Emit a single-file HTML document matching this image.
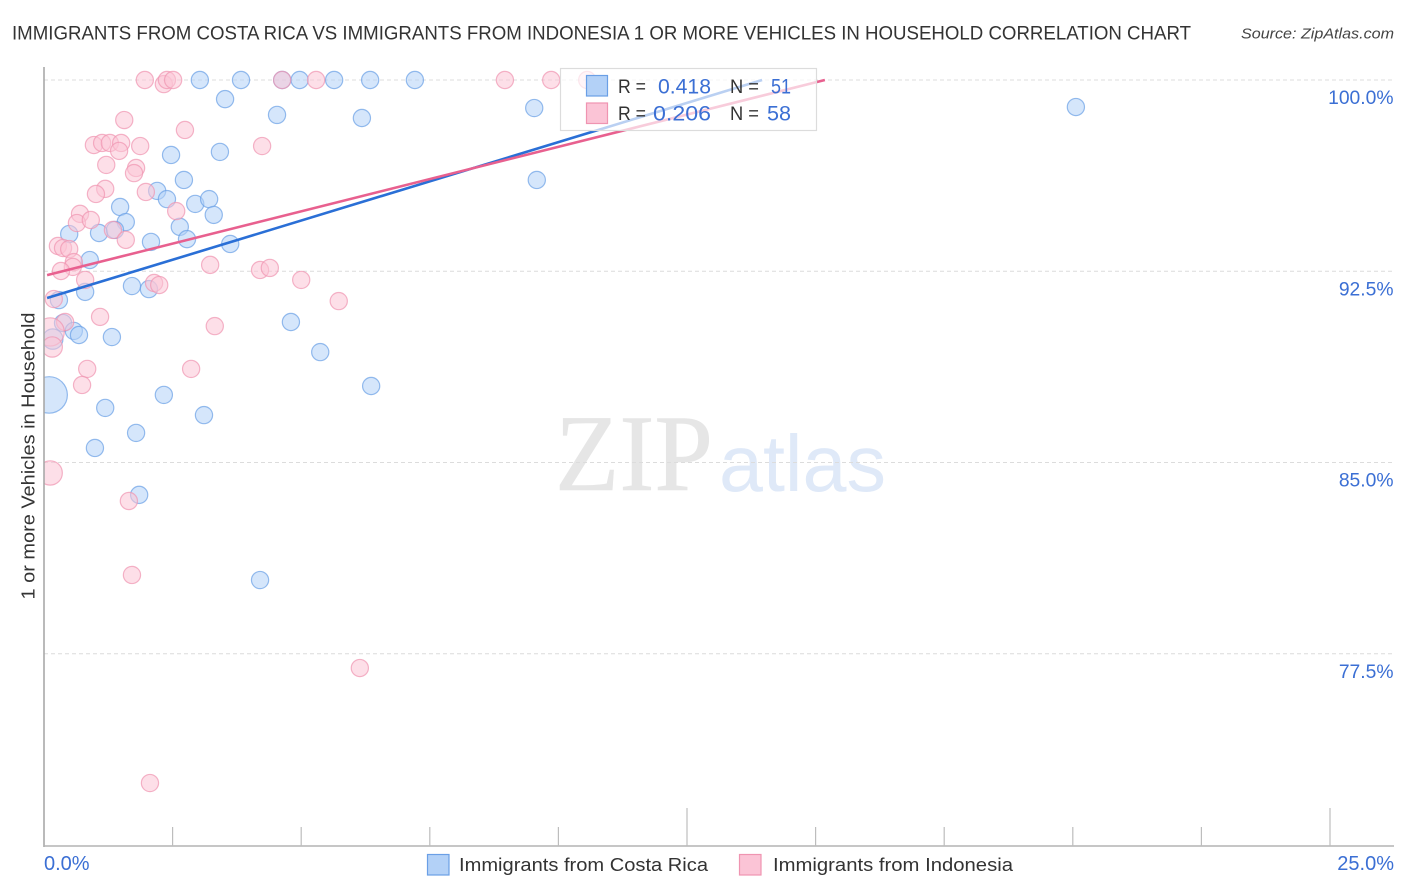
<!DOCTYPE html>
<html lang="en">
<head>
<meta charset="utf-8">
<title>Immigrants from Costa Rica vs Immigrants from Indonesia correlation chart</title>
<style>
html,body{margin:0;padding:0;background:#fff;width:1406px;height:892px;overflow:hidden}
svg{display:block}
text{font-family:"Liberation Sans",sans-serif}
</style>
</head>
<body>
<svg id="chart" xmlns="http://www.w3.org/2000/svg" width="1406" height="892" viewBox="0 0 1406 892">
  <text x="12" y="39.5" font-size="19.5" fill="#333" textLength="1179" lengthAdjust="spacingAndGlyphs">IMMIGRANTS FROM COSTA RICA VS IMMIGRANTS FROM INDONESIA 1 OR MORE VEHICLES IN HOUSEHOLD CORRELATION CHART</text>
  <text x="1241" y="38.5" font-size="15" font-style="italic" fill="#444" textLength="153" lengthAdjust="spacingAndGlyphs">Source: ZipAtlas.com</text>
  <text x="555" y="490" font-size="109" fill="#e6e6e6" stroke="#e6e6e6" stroke-width="0.6" textLength="158" lengthAdjust="spacingAndGlyphs" style="font-family:'Liberation Serif',serif">ZIP</text>
  <text x="719" y="491" font-size="80" fill="#dfe9f8" textLength="167" lengthAdjust="spacingAndGlyphs">atlas</text>
  <g id="grid"></g>
  <g id="points-blue"></g>
  <g id="points-pink"></g>
  <rect x="0" y="62" width="44" height="790" fill="#fff"/>
  <g id="axes"></g>
  <g id="trends"></g>
  <text transform="translate(34.5,456) rotate(-90)" text-anchor="middle" font-size="18.5" fill="#333" textLength="287" lengthAdjust="spacingAndGlyphs">1 or more Vehicles in Household</text>
  <g id="y-labels"></g>
  <g id="x-labels"></g>

  <g>
    <rect x="560.5" y="68.5" width="256" height="62" fill="#fff" fill-opacity="0.68" stroke="#dcdcdc" stroke-width="1.2"/>
    <rect x="586.5" y="75.5" width="21" height="20.5" fill="#b3d1f7" stroke="#6a9fe6" stroke-width="1.2"/>
    <rect x="586.5" y="103" width="21" height="20.5" fill="#fbc4d6" stroke="#ef94b1" stroke-width="1.2"/>
    <text x="618" y="93" font-size="19" fill="#333" textLength="28" lengthAdjust="spacingAndGlyphs">R =</text>
    <text x="658" y="93.5" font-size="21" fill="#3b6fd4" textLength="53" lengthAdjust="spacingAndGlyphs">0.418</text>
    <text x="730" y="93" font-size="19" fill="#333" textLength="29" lengthAdjust="spacingAndGlyphs">N =</text>
    <text x="771" y="93.5" font-size="21" fill="#3b6fd4" textLength="20" lengthAdjust="spacingAndGlyphs">51</text>
    <text x="618" y="120" font-size="19" fill="#333" textLength="28" lengthAdjust="spacingAndGlyphs">R =</text>
    <text x="653" y="120.5" font-size="21" fill="#3b6fd4" textLength="58" lengthAdjust="spacingAndGlyphs">0.206</text>
    <text x="730" y="120" font-size="19" fill="#333" textLength="29" lengthAdjust="spacingAndGlyphs">N =</text>
    <text x="767" y="120.5" font-size="21" fill="#3b6fd4" textLength="24" lengthAdjust="spacingAndGlyphs">58</text>
  </g>

  <g>
    <rect x="427.5" y="854.5" width="21.5" height="20.5" fill="#b3d1f7" stroke="#6a9fe6" stroke-width="1.2"/>
    <text x="459" y="871" font-size="18.5" fill="#333" textLength="249" lengthAdjust="spacingAndGlyphs">Immigrants from Costa Rica</text>
    <rect x="739.5" y="854.5" width="21.5" height="20.5" fill="#fbc4d6" stroke="#ef94b1" stroke-width="1.2"/>
    <text x="773" y="871" font-size="18.5" fill="#333" textLength="240" lengthAdjust="spacingAndGlyphs">Immigrants from Indonesia</text>
  </g>
</svg>
<script>
// x = share of immigrants (%), y = households with 1+ vehicles (%), optional third = relative sample weight
const costaRicaPoints = [
[3.03,100],[3.83,100],[4.63,100],[4.97,100],[5.64,100],[6.34,100],[7.21,100],
[3.52,99.25],[4.53,98.63],[6.18,98.51],[9.53,98.90],[20.06,98.94],[2.47,97.06],[3.42,97.18],
[9.58,96.08],[2.72,96.08],[2.20,95.65],[2.39,95.33],[2.94,95.14],[3.21,95.33],[3.30,94.71],
[1.48,95.02],[1.59,94.43],[1.07,94.00],[1.38,94.12],[0.49,93.96],[2.08,93.65],[2.64,94.24],
[2.78,93.76],[3.62,93.57],[0.89,92.94],[1.71,91.92],[2.04,91.80],[0.80,91.69],[0.29,91.37],
[4.80,90.51],[0.37,90.47],[0.58,90.16],[0.68,90.00],[1.32,89.92],[0.17,89.84,1.4],[5.37,89.33],
[6.36,88.00],[2.33,87.65],[0.10,87.65,4.5],[1.19,87.14],[3.11,86.86],[1.79,86.16],[0.99,85.57],
[1.85,83.73],[4.20,80.39]
];
const indonesiaPoints = [
[1.96,100],[2.33,99.84],[2.39,100],[2.51,100],[4.63,100],[5.29,100],[8.96,100],[9.86,100],[10.56,100],
[1.56,98.43],[2.74,98.04],[0.97,97.45],[1.13,97.53],[1.28,97.53],[1.50,97.53],[1.46,97.22],[1.87,97.41],
[4.24,97.41],[1.21,96.67],[1.79,96.55],[1.75,96.35],[1.19,95.73],[1.01,95.53],[1.98,95.61],[2.57,94.86],
[0.70,94.75],[0.64,94.39],[0.91,94.51],[1.34,94.12],[1.59,93.73],[0.27,93.49],[0.37,93.41],[0.49,93.37],
[0.58,92.86],[0.56,92.67],[0.33,92.51],[3.23,92.75],[4.20,92.55],[4.39,92.63],[0.80,92.16],[5.00,92.16],
[5.73,91.33],[2.14,92.04],[2.24,91.96],[0.19,91.41],[1.09,90.71],[3.32,90.35],[0.41,90.51],[0.12,90.12,2.7],
[0.16,89.53,1.4],[0.84,88.67],[2.86,88.67],[0.74,88.04],[0.12,84.59,2],[1.65,83.49],[1.71,80.59],[6.14,76.94],[2.06,72.43]
];
const costaRicaTrendX = [0.06, 13.96];
const costaRicaTrendY = [91.45, 100];
const indonesiaTrendX = [0.06, 15.18];
const indonesiaTrendY = [92.35, 100];
const yTickValues = [100, 92.5, 85, 77.5];
const yTickLabels = ["100.0%", "92.5%", "85.0%", "77.5%"];
const xTickValues = [2.5, 5, 7.5, 10, 12.5, 15, 17.5, 20, 22.5, 25];
const xMajorTicks = [12.5, 25];
const xEndValues = [0, 25];
const xEndLabels = ["0.0%", "25.0%"];

const NS = "http://www.w3.org/2000/svg";
const xScale = v => 44 + v * 51.44;
const yScale = v => 80 + (100 - v) * 25.5;
const AXIS_BOTTOM = 846;

function make(tag, attrs, parent) {
  const el = document.createElementNS(NS, tag);
  for (const k in attrs) el.setAttribute(k, attrs[k]);
  parent.appendChild(el);
  return el;
}

const gridG = document.getElementById("grid");
const axesG = document.getElementById("axes");
const yLabelsG = document.getElementById("y-labels");
const xLabelsG = document.getElementById("x-labels");
const trendsG = document.getElementById("trends");

yTickValues.forEach((v, i) => {
  const line = make("line", {x1: 44, x2: 1394, y1: yScale(v), y2: yScale(v), stroke: "#dcdcdc", "stroke-width": 1, "stroke-dasharray": "4 3"}, gridG);
  
  
  const label = make("text", {x: 1393.5, y: yScale(v) + 24, "text-anchor": "end", "font-size": 19.3, fill: "#3b6fd4"}, yLabelsG);
  
  
  label.textContent = yTickLabels[i];
});

const yAxis = make("line", {x1: 44, x2: 44, y1: 67, y2: AXIS_BOTTOM + 1, stroke: "#a8a8a8", "stroke-width": 1.6}, axesG);


const xAxis = make("line", {x1: 44, x2: 1394, y1: AXIS_BOTTOM, y2: AXIS_BOTTOM, stroke: "#b4b4b4", "stroke-width": 1.6}, axesG);



xTickValues.forEach(v => {
  const top = xMajorTicks.includes(v) ? 808 : 827;
  const tick = make("line", {x1: xScale(v), x2: xScale(v), y1: top, y2: AXIS_BOTTOM, stroke: "#bdbdbd", "stroke-width": 1.2}, axesG);
  
  
});

xEndValues.forEach((v, i) => {
  const label = make("text", {x: i === 0 ? xScale(v) : xScale(v) + 64, y: 870, "text-anchor": i === 0 ? "start" : "end", "font-size": 20, fill: "#3b6fd4"}, xLabelsG);
  
  
  label.textContent = xEndLabels[i];
});

function drawPoints(points, groupId, fill, stroke, name) {
  const g = document.getElementById(groupId);
  points.forEach(p => {
    const weight = p[2] || 1;
    const c = make("circle", {cx: xScale(p[0]), cy: yScale(p[1]), r: 8.6 * Math.sqrt(weight), fill: fill, "fill-opacity": 0.55, stroke: stroke, "stroke-opacity": 0.7, "stroke-width": 1.2}, g);
    
    
  });
}
drawPoints(costaRicaPoints, "points-blue", "#b3d1f7", "#6a9fe6", "costa-rica-point");
drawPoints(indonesiaPoints, "points-pink", "#fbc4d6", "#ef94b1", "indonesia-point");

const blueTrend = make("line", {x1: xScale(costaRicaTrendX[0]), y1: yScale(costaRicaTrendY[0]), x2: xScale(costaRicaTrendX[1]), y2: yScale(costaRicaTrendY[1]), stroke: "#2a6fd6", "stroke-width": 2.6}, trendsG);


const pinkTrend = make("line", {x1: xScale(indonesiaTrendX[0]), y1: yScale(indonesiaTrendY[0]), x2: xScale(indonesiaTrendX[1]), y2: yScale(indonesiaTrendY[1]), stroke: "#e8608f", "stroke-width": 2.6}, trendsG);


</script>
</body>
</html>
